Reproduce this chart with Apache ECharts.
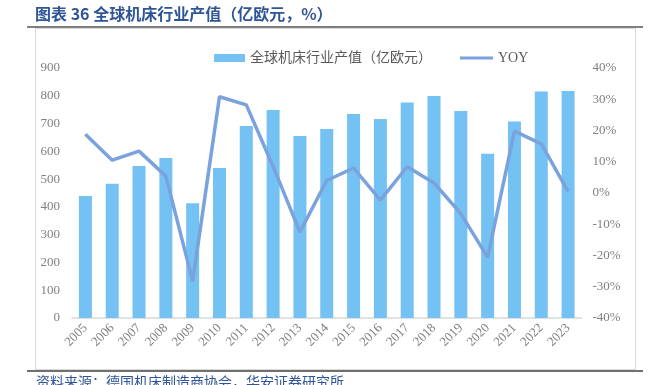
<!DOCTYPE html>
<html><head><meta charset="utf-8">
<script src="https://cdn.jsdelivr.net/npm/echarts@6/dist/echarts.min.js"></script>
<style>html,body{margin:0;padding:0;background:#fff}#c{width:649px;height:385px}</style>
</head><body><div id="c"></div>
<script>
var categories = ['2005','2006','2007','2008','2009','2010','2011','2012','2013','2014','2015','2016','2017','2018','2019','2020','2021','2022','2023'];
var outputValues = [439, 483, 547, 576, 413, 540, 691, 749, 655, 680, 734, 716, 776, 799, 745, 591, 707, 815, 817];
var yoyValues = [18.8, 10.5, 13.4, 5.4, -28.2, 30.8, 28.2, 8.5, -12.5, 4.0, 8.0, -2.3, 8.4, 3.2, -6.6, -20.6, 19.8, 15.7, 0.5];
var barName = '全球机床行业产值（亿欧元）';
var lineName = 'YOY';
var titleText = '图表 36 全球机床行业产值（亿欧元，%）';
var sourceText = '资料来源：德国机床制造商协会，华安证券研究所';

var serif = '"Liberation Serif","Noto Sans CJK SC",serif';
var legendText = {fontFamily: serif, fontSize: 14, color: '#595959'};
var chart = echarts.init(document.getElementById('c'));
chart.setOption({
  animation: false,
  graphic: [
    {type:'rect', shape:{x:35.5,y:28.5,width:600,height:341}, style:{fill:'none',stroke:'#d9d9d9',lineWidth:1}, z:0},
    {type:'line', shape:{x1:27,y1:27,x2:643,y2:27}, style:{stroke:'#7f7f7f',lineWidth:2}},
    {type:'line', shape:{x1:27,y1:371,x2:643,y2:371}, style:{stroke:'#404040',lineWidth:1.5}},
    {type:'text', left:35, top:6, style:{text:titleText, font:'bold 16px "Noto Sans CJK SC",sans-serif', fill:'#2f5597'}},
    {type:'text', left:36, top:375, style:{text:sourceText, font:'14px "Noto Sans CJK SC",serif', fill:'#2f5597'}}
  ],
  legend: [
    {top: 51, left: 214, padding: 0, itemWidth: 31, itemHeight: 8, itemGap: 5,
     textStyle: legendText, data: [{name: barName, icon: 'rect'}]},
    {top: 51, left: 460, padding: 0, itemWidth: 33, itemHeight: 3, itemGap: 5,
     textStyle: legendText, data: [{name: lineName, icon: 'rect'}]}
  ],
  grid: {left: 72, right: 67.5, top: 68, bottom: 67},
  xAxis: {
    type: 'category', data: categories,
    axisLine: {lineStyle: {color: '#d9d9d9', width: 1.5}},
    axisTick: {show: false},
    axisLabel: {rotate: 45, fontFamily: serif, fontSize: 13, color: '#7f7f7f', margin: 8}
  },
  yAxis: [
    {type: 'value', min: 0, max: 900, interval: 100,
     axisLine: {show: false}, axisTick: {show: false}, splitLine: {show: false},
     axisLabel: {fontFamily: serif, fontSize: 13, color: '#7f7f7f', margin: 12}},
    {type: 'value', min: -40, max: 40, interval: 10,
     axisLine: {show: false}, axisTick: {show: false}, splitLine: {show: false},
     axisLabel: {fontFamily: serif, fontSize: 13, color: '#7f7f7f', margin: 11, formatter: '{value}%'}}
  ],
  series: [
    {name: barName, type: 'bar', data: outputValues, barWidth: 13,
     itemStyle: {color: '#74c2f4'}},
    {name: lineName, type: 'line', yAxisIndex: 1, data: yoyValues,
     symbol: 'none', lineStyle: {color: '#7aa2dc', width: 3.5}, itemStyle: {color: '#7aa2dc'}}
  ]
});
</script></body></html>
